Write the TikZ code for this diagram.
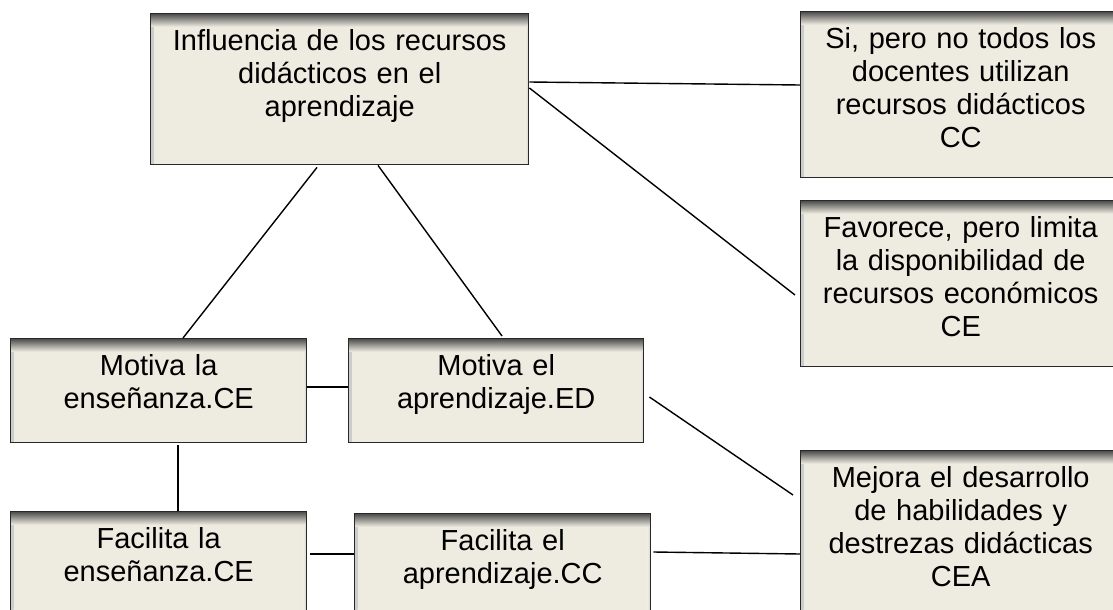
\documentclass[tikz,border=0pt]{standalone}
\usepackage{fontspec}
\setmainfont{Liberation Sans}
\definecolor{cajafill}{RGB}{238,236,225}
\definecolor{cajaborde}{RGB}{40,40,40}

\begin{document}
\begin{tikzpicture}[x=1pt,y=-1pt,
	caja/.style n args={2}{draw=cajaborde,line width=1.4pt,fill=cajafill,
		anchor=north west,inner xsep=0pt,inner ysep=0pt,align=center,
		text width=#1,text height=37pt,text depth=#2,
		font=\fontsize{29}{33}\selectfont,
		path picture={
			\shade[left color=black!20,right color=cajafill] (path picture bounding box.north west) rectangle ([xshift=3pt]path picture bounding box.south west);
			\shade[right color=black!20,left color=cajafill] ([xshift=-3pt]path picture bounding box.north east) rectangle (path picture bounding box.south east);
			\shade[top color=black!70,bottom color=cajafill] (path picture bounding box.north west) rectangle ([yshift=-13pt]path picture bounding box.north east);
		}},
	linea/.style={line width=1.4pt}]
		\useasboundingbox (0,0) rectangle (1113,610);
		% boxes
		\node[caja={378pt}{114pt}] (infl) at (150,13) {Influencia de los recursos\\didácticos en el\\aprendizaje};
		\node[caja={320pt}{129pt}] (si) at (800,11) {Si, pero no todos los\\docentes utilizan\\recursos didácticos\\CC};
		\node[caja={320pt}{129pt}] (fav) at (800,200) {Favorece, pero limita\\la disponibilidad de\\recursos económicos\\CE};
		\node[caja={320pt}{133pt}] (mej) at (800,450) {Mejora el desarrollo\\de habilidades y\\destrezas didácticas\\CEA};
		\node[caja={296pt}{67pt}] (motla) at (10,338) {Motiva la\\enseñanza.CE};
		\node[caja={295pt}{67pt}] (motel) at (348,338) {Motiva el\\aprendizaje.ED};
		\node[caja={296pt}{72pt}] (facla) at (10,511) {Facilita la\\enseñanza.CE};
		\node[caja={296pt}{70pt}] (facel) at (354,513) {Facilita el\\aprendizaje.CC};
		% lines
		\draw[linea] ([shift={(0,69)}]infl.north east) -- ([shift={(0,74)}]si.north west);
		\draw[linea] ([shift={(0,75)}]infl.north east) -- ([shift={(-5,95)}]fav.north west);
		\draw[linea] ([shift={(167,2)}]infl.south west) -- ([shift={(173,0)}]motla.north west);
		\draw[linea] ([shift={(228,0)}]infl.south west) -- ([shift={(154,-2)}]motel.north west);
		\draw[linea] ([shift={(0,49)}]motla.north east) -- ([shift={(0,49)}]motel.north west);
		\draw[linea] ([shift={(168,2)}]motla.south west) -- ([shift={(168,0)}]facla.north west);
		\draw[linea] ([shift={(3,43)}]facla.north east) -- ([shift={(0,41)}]facel.north west);
		\draw[linea] ([shift={(5,59)}]motel.north east) -- ([shift={(-7,45)}]mej.north west);
		\draw[linea] ([shift={(2,39)}]facel.north east) -- ([shift={(0,104)}]mej.north west);
	\end{tikzpicture}
\end{document}
